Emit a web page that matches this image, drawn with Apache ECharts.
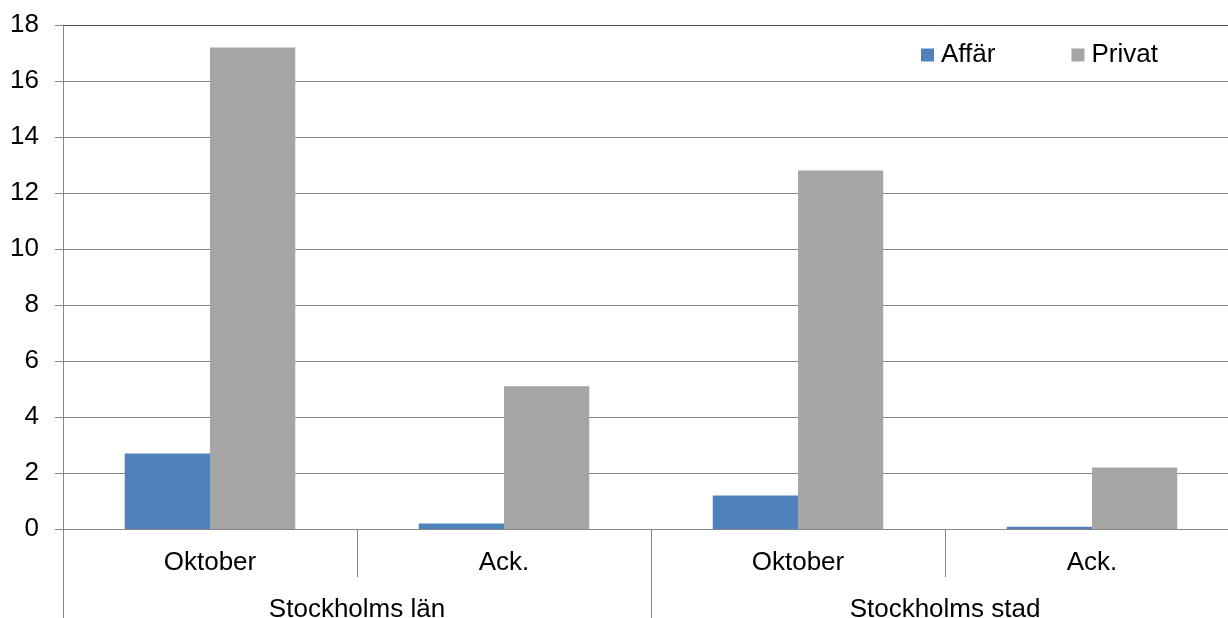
<!DOCTYPE html>
<html>
<head>
<meta charset="utf-8">
<script src="https://cdn.jsdelivr.net/npm/echarts@6/dist/echarts.min.js"></script>
<style>
html,body{margin:0;padding:0;background:#fff;}
#chart{width:1228px;height:618px;}
</style>
</head>
<body>
<div id="chart"></div>
<script>
var categories = ['Oktober', 'Ack.', 'Oktober', 'Ack.'];
var groups = ['Stockholms län', 'Stockholms stad'];
var affar = [2.7, 0.2, 1.2, 0.08];
var privat = [17.2, 5.1, 12.8, 2.2];
var seriesNames = ['Affär', 'Privat'];

var FONT = '"Liberation Sans", Arial, sans-serif';
var gridColors = ['#868686','#868686','#868686','#868686','#868686','#868686','#868686','#868686','#868686','#505050'];

var chart = echarts.init(document.getElementById('chart'));
chart.setOption({
  animation: false,
  backgroundColor: '#fff',
  textStyle: {fontFamily: FONT},
  grid: {left: 63, right: -11, top: 25, bottom: 89, containLabel: false, outerBoundsMode: 'none'},
  legend: {
    left: 916, top: 37,
    itemWidth: 13, itemHeight: 13, itemGap: 76,
    icon: 'rect',
    textStyle: {fontSize: 26, color: '#000', fontFamily: FONT, padding: [0,0,0,2]},
    data: seriesNames
  },
  xAxis: [{
    type: 'category',
    data: categories,
    position: 'bottom',
    axisLine: {show: true, lineStyle: {color: '#868686', width: 1}},
    axisTick: {show: true, length: 48, lineStyle: {color: '#868686'}},
    axisLabel: {fontSize: 26, color: '#000', margin: 21, fontFamily: FONT, interval: 0}
  }, {
    type: 'category',
    data: groups,
    position: 'bottom',
    axisLine: {show: false},
    axisTick: {show: true, length: 89, lineStyle: {color: '#868686'}},
    axisLabel: {fontSize: 26, color: '#000', margin: 68, fontFamily: FONT, interval: 0}
  }],
  yAxis: {
    type: 'value',
    min: 0, max: 18, interval: 2,
    axisLine: {show: true, lineStyle: {color: '#868686'}},
    axisTick: {show: true, length: 8, lineStyle: {color: '#868686'}},
    axisLabel: {fontSize: 26, color: '#000', margin: 24, fontFamily: FONT},
    splitLine: {show: true, lineStyle: {color: gridColors, width: 1}}
  },
  series: [{
    name: seriesNames[0], type: 'bar', xAxisIndex: 0,
    data: affar, barGap: '0%', barCategoryGap: '42%',
    itemStyle: {color: '#4F81BD'}
  }, {
    name: seriesNames[1], type: 'bar', xAxisIndex: 0,
    data: privat, barGap: '0%', barCategoryGap: '42%',
    itemStyle: {color: '#A5A5A5'}
  }]
});
</script>
</body>
</html>
